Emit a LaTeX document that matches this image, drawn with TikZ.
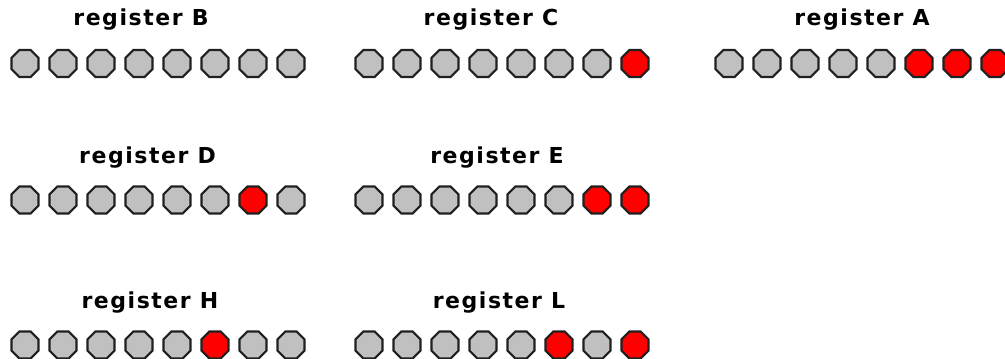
\documentclass[tikz,border=0pt]{standalone}
\usepackage{fontspec}
\usetikzlibrary{shapes.geometric}
\newfontfamily\regfont[LetterSpace=7]{DejaVu Sans}
\definecolor{bitg}{HTML}{C0C0C0}
\definecolor{bitr}{HTML}{FF0000}
\definecolor{bitline}{HTML}{202020}
\newcommand\regbits[4]{%
  \foreach \c [count=\i from 0] in {#4} {%
    \node[bitnode, fill=bit\c] (#1-\i) at ({#2+38*\i},#3) {};
  }%
}
\begin{document}
\begin{tikzpicture}[x=0.75pt,y=-0.75pt,
  bitnode/.style={regular polygon, regular polygon sides=8, minimum size=21.9pt,
    inner sep=0pt, outer sep=0pt, draw=bitline, line width=1.6pt},
  lbl/.style={anchor=base, inner sep=0pt,
    font=\regfont\bfseries\fontsize{16.5pt}{19pt}\selectfont}]
\useasboundingbox (0,0) rectangle (1005,359);

% labels
\node[lbl] (tB) at (141,25.5) {register B};
\node[lbl] (tC) at (491,25.5) {register C};
\node[lbl] (tA) at (862,25.5) {register A};
\node[lbl] (tD) at (147.5,163.5) {register D};
\node[lbl] (tE) at (497,163.5) {register E};
\node[lbl] (tH) at (150,308) {register H};
\node[lbl] (tL) at (499,308) {register L};

% bits
\regbits{B}{25}{63.5}{g,g,g,g,g,g,g,g}
\regbits{C}{369}{63.5}{g,g,g,g,g,g,g,r}
\regbits{A}{729}{63.5}{g,g,g,g,g,r,r,r}
\regbits{D}{25}{200}{g,g,g,g,g,g,r,g}
\regbits{E}{369}{200}{g,g,g,g,g,g,r,r}
\regbits{H}{25}{345}{g,g,g,g,g,r,g,g}
\regbits{L}{369}{345}{g,g,g,g,g,r,g,r}
\end{tikzpicture}
\end{document}
